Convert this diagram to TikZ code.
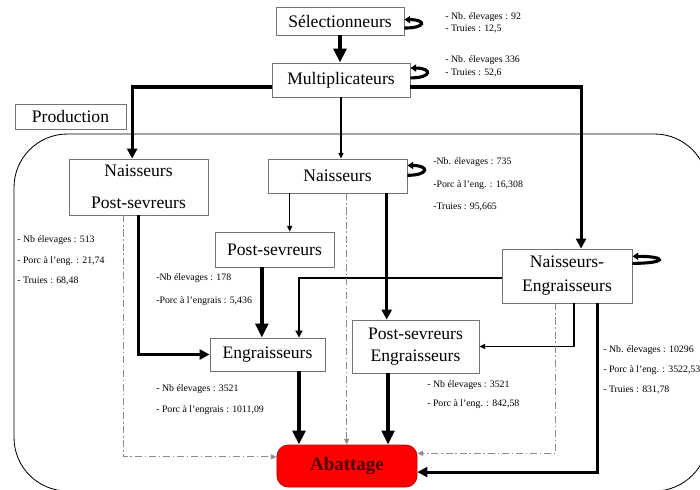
\documentclass[tikz,border=0pt]{standalone}
\usepackage{fontspec}
\setmainfont{Liberation Serif}
\usetikzlibrary{arrows.meta}
\usepackage{xcolor}
\def\pxunit{0.025cm}

\begin{document}
\begin{tikzpicture}[x=\pxunit, y=-\pxunit]
    \tikzstyle{box}=[rectangle, draw=black!55, fill=white, line width=0.6pt, inner sep=0pt, align=center, font=\fontsize{12.5}{16}\selectfont]
    \tikzstyle{info}=[anchor=west, inner sep=0pt, align=left, font=\fontsize{7}{15}\selectfont]
    \tikzstyle{flow}=[draw=black, line width=0.8pt, -{Triangle[length=4pt,width=3.6pt]}]
    \tikzstyle{mid flow}=[flow, line width=1.5pt, -{Triangle[length=5pt,width=5pt]}]
    \tikzstyle{thick flow}=[flow, line width=2.2pt, -{Triangle[length=7pt,width=7pt]}]
    \tikzstyle{heavy flow}=[flow, line width=3pt, -{Triangle[length=10pt,width=9pt]}]
    \tikzstyle{loss}=[draw=black!45, line width=0.6pt, dash pattern=on 5pt off 2pt on 1pt off 2pt, -{Triangle[length=4pt,width=3.5pt]}]
    \tikzstyle{self}=[draw=black, line width=2.2pt, -{Triangle[length=4pt,width=5pt]}]

    \useasboundingbox (0,0) rectangle (700,489);

    % Draw the production area
    \draw[line width=0.6pt, rounded corners=38pt] (14,134) rectangle (708,491);
    \node[box, minimum width=2.775cm, minimum height=0.625cm] (prod) at (70.5,116.5) {Production};

    % Draw the breeding levels
    \node[box, minimum width=3.2cm, minimum height=0.7cm] (sel) at (340,21) {Sélectionneurs};
    \node[box, minimum width=3.45cm, minimum height=0.85cm] (mult) at (341,80) {Multiplicateurs};

    % Draw the production nodes
    \node[box, minimum width=3.475cm, minimum height=1.4cm] (nps) at (138.5,187) {Naisseurs\\[7pt]Post-sevreurs};
    \node[box, minimum width=3.475cm, minimum height=0.85cm] (nais) at (337.5,176) {Naisseurs};
    \node[box, minimum width=2.975cm, minimum height=0.875cm] (ps) at (274.5,249.5) {Post-sevreurs};
    \node[box, font=\fontsize{12.5}{17}\selectfont, minimum width=3.25cm, minimum height=1.35cm] (ne) at (567,276) {Naisseurs-\\Engraisseurs};
    \node[box, minimum width=2.875cm, minimum height=0.825cm] (engr) at (267.5,354.5) {Engraisseurs};
    \node[box, minimum width=3.175cm, minimum height=1.325cm] (pse) at (415.5,346.5) {Post-sevreurs\\Engraisseurs};
    \node[box, draw=red!75!black, fill=red, rounded corners=8pt, text=red!30!black, font=\bfseries\fontsize{13.5}{16}\selectfont, minimum width=3.5cm, minimum height=1.05cm] (abat) at (347,466) {Abattage};

    % Annotate the levels
    \node[info, font=\fontsize{7}{8.5}\selectfont] (sel-info) at (445,23) {- Nb. élevages : 92\\- Truies : 12,5};
    \node[info, font=\fontsize{7}{9.2}\selectfont] (mult-info) at (445,66.5) {- Nb. élevages 336\\- Truies : 52,6};
    \node[info, font=\fontsize{7}{16}\selectfont] (nais-info) at (433,184.5) {-Nb. élevages : 735\\-Porc à l'eng. : 16,308\\-Truies : 95,665};
    \node[info, font=\fontsize{7}{14.5}\selectfont] (nps-info) at (17,260.5) {- Nb élevages : 513\\- Porc à l'eng. : 21,74\\- Truies : 68,48};
    \node[info, font=\fontsize{7}{16.3}\selectfont] (ps-info) at (156,289.5) {-Nb élevages : 178\\-Porc à l'engrais : 5,436};
    \node[info] (engr-info) at (156,399.5) {- Nb élevages : 3521\\- Porc à l'engrais : 1011,09};
    \node[info, font=\fontsize{7}{14}\selectfont] (pse-info) at (427,394.5) {- Nb élevages : 3521\\- Porc à l'eng. : 842,58};
    \node[info, font=\fontsize{7}{14.2}\selectfont] (ne-info) at (603,370) {- Nb. élevages : 10296\\- Porc à l'eng. : 3522,53\\- Truies : 831,78};

    % Connect the breeding levels
    \draw[heavy flow] (sel.south) -- (sel.south |- mult.north);
    \draw[thick flow] ([yshift=-5pt]mult.west) -| ([xshift=-4.5pt]nps.north);
    \draw[thick flow] ([yshift=-5pt]mult.east) -| ([xshift=10pt]ne.north);
    \draw[flow] (mult.south) -- (mult.south |- nais.north);

    % Connect the production nodes
    \draw[flow] ([xshift=-34pt]nais.south) -- ([xshift=-34pt]nais.south |- ps.north);
    \draw[thick flow] ([xshift=35pt]nais.south) -- ([xshift=35pt]nais.south |- pse.north);
    \draw[thick flow] (nps.south) |- (engr.west);
    \draw[heavy flow] ([xshift=-9pt]ps.south) -- ([xshift=-9pt]ps.south |- engr.north);
    \draw[mid flow] ([yshift=-1.5pt]ne.west) -| ([xshift=22.4pt]engr.north);
    \draw[flow] ([xshift=5pt]ne.south) |- (pse.east);

    % Connect to the slaughterhouse
    \draw[heavy flow] ([xshift=22.4pt]engr.south) -- ([xshift=22.4pt]engr.south |- abat.north);
    \draw[heavy flow] ([xshift=-19.5pt]pse.south) -- ([xshift=-19.5pt]pse.south |- abat.north);
    \draw[thick flow] ([xshift=22pt]ne.south) |- ([yshift=-4.3pt]abat.east);
    \draw[loss] ([xshift=-11pt]nps.south) |- ([yshift=6.5pt]abat.west);
    \draw[loss] ([xshift=6.5pt]nais.south) -- ([xshift=6.5pt]nais.south |- abat.north);
    \draw[loss] ([xshift=-8pt]ne.south) |- ([yshift=9pt]abat.east);

    % Self renewal loops
    \draw[self] ([yshift=-5pt]sel.east) .. controls +(22,0) and +(22,0) .. ([yshift=1pt]sel.east);
    \draw[self] ([yshift=1.5pt]mult.east) .. controls +(22,0) and +(22,0) .. ([yshift=8.5pt]mult.east);
    \draw[self] ([yshift=0.5pt]nais.east) .. controls +(22,0) and +(22,0) .. ([yshift=7.5pt]nais.east);
    \draw[self] ([yshift=9pt]ne.east) .. controls +(35,0) and +(35,0) .. ([yshift=14pt]ne.east);

\end{tikzpicture}
\end{document}
